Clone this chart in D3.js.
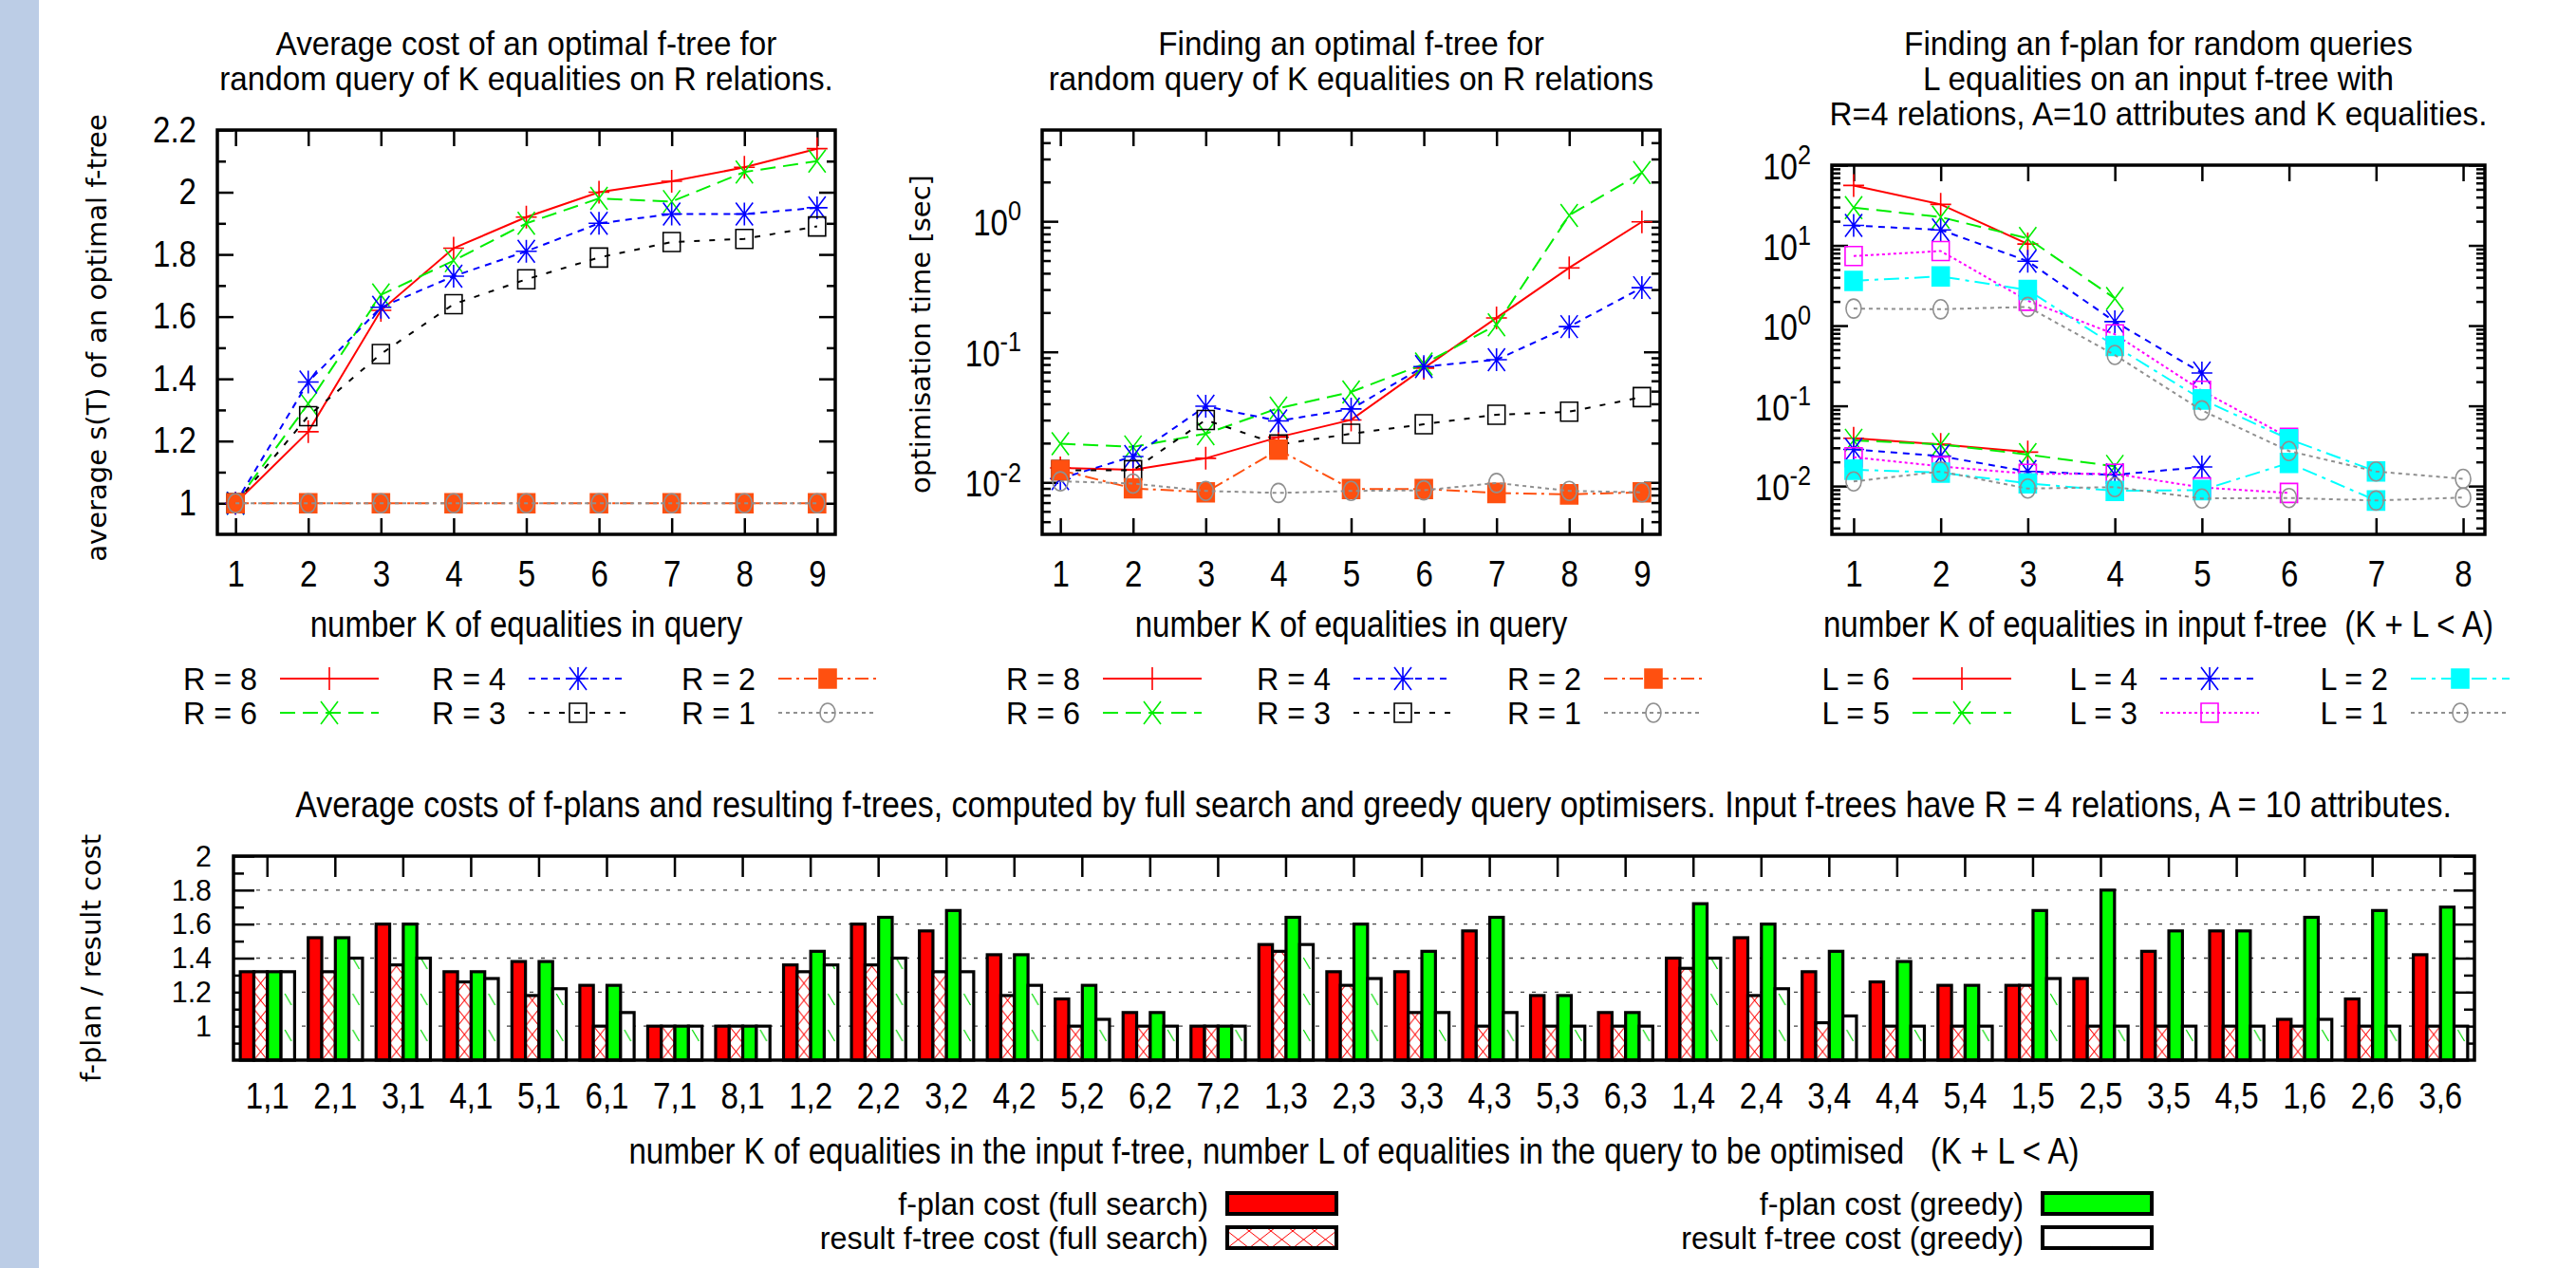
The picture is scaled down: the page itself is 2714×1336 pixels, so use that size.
<!DOCTYPE html>
<html>
<head>
<meta charset="utf-8">
<script src="https://cdn.jsdelivr.net/npm/d3@7"></script>
<style>
  body { margin: 0; background: #fff; }
  text { font-family: "Liberation Sans", Arial, sans-serif; fill: #000; white-space: pre; }
  .rot { font-family: "DejaVu Sans", sans-serif; }
</style>
</head>
<body>
<svg id="chart" width="2714" height="1336"></svg>
<script>
// ---- data: average cost of an optimal f-tree (left chart) ----
const kQuery = [1, 2, 3, 4, 5, 6, 7, 8, 9];
const costR8 = [1, 1.23, 1.62, 1.82, 1.92, 2.00, 2.035, 2.08, 2.14];
const costR6 = [1, 1.32, 1.67, 1.78, 1.90, 1.98, 1.97, 2.065, 2.10];
const costR4 = [1, 1.39, 1.63, 1.73, 1.81, 1.90, 1.93, 1.93, 1.95];
const costR3 = [1, 1.28, 1.48, 1.64, 1.72, 1.79, 1.84, 1.85, 1.89];
const costR2 = [1, 1, 1, 1, 1, 1, 1, 1, 1];
const costR1 = [1, 1, 1, 1, 1, 1, 1, 1, 1];

// ---- data: optimisation time (middle chart) ----
const timeR8 = [0.0129, 0.0125, 0.0153, 0.0222, 0.0301, 0.075, 0.182, 0.44, 0.99];
const timeR6 = [0.0198, 0.0187, 0.0236, 0.037, 0.0493, 0.0806, 0.161, 1.11, 2.36];
const timeR4 = [0.0107, 0.0158, 0.0383, 0.0296, 0.0365, 0.077, 0.087, 0.156, 0.31];
const timeR3 = [0.0124, 0.0124, 0.0301, 0.0195, 0.0236, 0.0279, 0.033, 0.0348, 0.045];
const timeR2 = [0.0124, 0.0090, 0.0084, 0.0178, 0.0089, 0.0089, 0.0083, 0.0081, 0.0084];
const timeR1 = [0.0102, 0.0098, 0.0086, 0.0083, 0.0086, 0.0087, 0.0099, 0.0086, 0.0084];

// ---- data: finding an f-plan (right chart), upper and lower curve per L ----
const kInput = [1, 2, 3, 4, 5, 6, 7, 8];
const planUpperL6 = [55.8, 32.4, 10.4];
const planLowerL6 = [0.0394, 0.0331, 0.0265];
const planUpperL5 = [29.6, 22.5, 12.2, 2.18];
const planLowerL5 = [0.0372, 0.033, 0.0247, 0.0176];
const planUpperL4 = [17.7, 15.6, 6.35, 1.12, 0.256];
const planLowerL4 = [0.0286, 0.0236, 0.0152, 0.0138, 0.0173];
const planUpperL3 = [7.36, 8.5, 2.04, 0.78, 0.154, 0.040];
const planLowerL3 = [0.0229, 0.0176, 0.0142, 0.0142, 0.0096, 0.0082];
const planUpperL2 = [3.61, 4.1, 2.78, 0.557, 0.12, 0.0384, 0.0152];
const planLowerL2 = [0.016, 0.0147, 0.0108, 0.0087, 0.0089, 0.0194, 0.0066];
const planUpperL1 = [1.63, 1.6, 1.71, 0.43, 0.0877, 0.0273, 0.0152, 0.0123];
const planLowerL1 = [0.0114, 0.0152, 0.0093, 0.0097, 0.0070, 0.0071, 0.0066, 0.0072];

// ---- data: bar chart ----
const pairLabels = ["1,1","2,1","3,1","4,1","5,1","6,1","7,1","8,1",
  "1,2","2,2","3,2","4,2","5,2","6,2","7,2",
  "1,3","2,3","3,3","4,3","5,3","6,3",
  "1,4","2,4","3,4","4,4","5,4",
  "1,5","2,5","3,5","4,5",
  "1,6","2,6","3,6"];
const planCostFull   = [1.32,1.52,1.60,1.32,1.38,1.24,1.0,1.0, 1.36,1.60,1.56,1.42,1.16,1.08,1.0,
  1.48,1.32,1.32,1.56,1.18,1.08, 1.40,1.52,1.32,1.26,1.24, 1.24,1.28,1.44,1.56, 1.04,1.16,1.42];
const treeCostFull   = [1.32,1.32,1.36,1.26,1.18,1.0,1.0,1.0, 1.32,1.36,1.32,1.18,1.0,1.0,1.0,
  1.44,1.24,1.08,1.0,1.0,1.0, 1.34,1.18,1.02,1.0,1.0, 1.24,1.0,1.0,1.0, 1.0,1.0,1.0];
const planCostGreedy = [1.32,1.52,1.60,1.32,1.38,1.24,1.0,1.0, 1.44,1.64,1.68,1.42,1.24,1.08,1.0,
  1.64,1.60,1.44,1.64,1.18,1.08, 1.72,1.60,1.44,1.38,1.24, 1.68,1.80,1.56,1.56, 1.64,1.68,1.70];
const treeCostGreedy = [1.32,1.40,1.40,1.28,1.22,1.08,1.0,1.0, 1.36,1.40,1.32,1.24,1.04,1.0,1.0,
  1.48,1.28,1.08,1.08,1.0,1.0, 1.40,1.22,1.06,1.0,1.0, 1.28,1.0,1.0,1.0, 1.04,1.0,1.0];

const svg = d3.select("#chart");
const defs = svg.append("defs");

// blue strip on the left edge
svg.append("rect").attr("x", 0).attr("y", 0).attr("width", 41).attr("height", 1336).attr("fill", "#bccde6");

// line styles
const RED = "#ff0000", GREEN = "#00ee00", BLUE = "#0000ff", BLACK = "#000000",
      ORANGE = "#ff5010", GRAY = "#909090", MAGENTA = "#ff00ff", CYAN = "#00ffff";
const styles = {
  s1: {color: RED, dash: null, marker: "plus"},
  s2: {color: GREEN, dash: "16,8", marker: "cross"},
  s3: {color: BLUE, dash: "7,6", marker: "star"},
  s4: {color: BLACK, dash: "6,10", marker: "square"},
  s5: {color: ORANGE, dash: "14,5,3,5", marker: "fsquare"},
  s6: {color: GRAY, dash: "4,4", marker: "circle"},
  m4: {color: MAGENTA, dash: "3,3", marker: "square"},
  c5: {color: CYAN, dash: "16,6,4,6", marker: "fsquare"}
};

function markerPath(type, cx, cy) {
  const p = `M${cx - 11},${cy}H${cx + 11}M${cx},${cy - 12}V${cy + 12}`;
  const c = `M${cx - 9},${cy - 12}L${cx + 9},${cy + 12}M${cx + 9},${cy - 12}L${cx - 9},${cy + 12}`;
  if (type === "plus") return p;
  if (type === "cross") return c;
  if (type === "star") return p + c;
  if (type === "square" || type === "fsquare") return `M${cx - 9},${cy - 10}H${cx + 9}V${cy + 10}H${cx - 9}Z`;
  return `M${cx - 8},${cy}a8,10 0 1,0 16,0a8,10 0 1,0 -16,0`;
}

function drawMarkers(g, pts, st) {
  g.selectAll(null).data(pts).join("path")
    .attr("d", d => markerPath(st.marker, d[0], d[1]))
    .attr("fill", st.marker === "fsquare" ? st.color : "none")
    .attr("stroke", st.color)
    .attr("stroke-width", 1.6);
}

function styleAxis(sel, size) {
  sel.select(".domain").remove();
  sel.attr("font-family", null).attr("font-size", size || 38);
  sel.selectAll(".tick line").attr("stroke", "#000").attr("stroke-width", 2.5);
}

function lineChart(o) {
  const g = svg.append("g");
  const x = d3.scaleLinear().domain(o.xDomain).range([o.left, o.right]);
  const y = (o.log ? d3.scaleLog() : d3.scaleLinear()).domain(o.yDomain).range([o.bottom, o.top]);

  g.append("g").attr("transform", `translate(0,${o.bottom})`)
    .call(d3.axisBottom(x).tickValues(o.xTicks).tickFormat(d3.format("d")).tickSize(-17).tickPadding(28))
    .call(styleAxis);
  g.append("g").attr("transform", `translate(0,${o.top})`)
    .call(d3.axisTop(x).tickValues(o.xTicks).tickFormat("").tickSize(-17))
    .call(styleAxis);

  const left = d3.axisLeft(y).tickValues(o.yMajor).tickSize(-17).tickPadding(22)
    .tickFormat(o.log ? "" : d3.format("~g"));
  g.append("g").attr("transform", `translate(${o.left},0)`).call(left).call(styleAxis);
  g.append("g").attr("transform", `translate(${o.right},0)`)
    .call(d3.axisRight(y).tickValues(o.yMajor).tickSize(-17).tickFormat("")).call(styleAxis);
  g.append("g").attr("transform", `translate(${o.left},0)`)
    .call(d3.axisLeft(y).tickValues(o.yMinor).tickSize(-9).tickFormat("")).call(styleAxis);
  g.append("g").attr("transform", `translate(${o.right},0)`)
    .call(d3.axisRight(y).tickValues(o.yMinor).tickSize(-9).tickFormat("")).call(styleAxis);

  if (o.log) {
    const lab = g.selectAll(null).data(o.yMajor).join("text")
      .attr("x", o.left - 22).attr("y", d => y(d)).attr("dy", "0.4em")
      .attr("text-anchor", "end").attr("font-size", 38);
    lab.append("tspan").text("10");
    lab.append("tspan").attr("dy", "-0.55em").attr("font-size", 29).text(d => Math.round(Math.log10(d)));
  }

  // series
  o.series.forEach(s => {
    const pts = s.values.map((v, i) => [x(s.k[i]), y(v)]);
    g.append("path").attr("d", d3.line()(pts)).attr("fill", "none")
      .attr("stroke", s.st.color).attr("stroke-width", 2)
      .attr("stroke-dasharray", s.st.dash);
    drawMarkers(g, pts, s.st);
  });

  g.append("rect").attr("x", o.left).attr("y", o.top)
    .attr("width", o.right - o.left).attr("height", o.bottom - o.top)
    .attr("fill", "none").attr("stroke", "#000").attr("stroke-width", 3.5);

  // titles
  const cx = (o.left + o.right) / 2;
  o.title.forEach((t, i) => {
    g.append("text").attr("x", cx).attr("y", 58 + i * 37).attr("text-anchor", "middle")
      .attr("font-size", 35).text(t);
  });
  g.append("text").attr("x", cx).attr("y", 671).attr("text-anchor", "middle")
    .attr("font-size", 38).text(o.xTitle);
  if (o.yTitle) {
    g.append("text").attr("class", "rot")
      .attr("transform", `translate(${o.yTitleX},${o.yTitleY}) rotate(-90)`)
      .attr("text-anchor", "middle").attr("dominant-baseline", "central")
      .attr("font-size", 29).text(o.yTitle);
  }

  // legend
  o.legend.forEach((e, i) => {
    const tx = o.legendX[Math.floor(i / 2)];
    const cy = i % 2 === 0 ? 715 : 751;
    g.append("text").attr("x", tx).attr("y", cy).attr("dy", "0.36em")
      .attr("text-anchor", "end").attr("font-size", 34).text(e.label);
    g.append("line").attr("x1", tx + 24).attr("x2", tx + 128).attr("y1", cy).attr("y2", cy)
      .attr("stroke", e.st.color).attr("stroke-width", 2).attr("stroke-dasharray", e.st.dash);
    drawMarkers(g, [[tx + 76, cy]], e.st);
  });
}

function logMinor(lo, hi) {
  const out = [];
  for (let e = Math.floor(Math.log10(lo)); e <= Math.ceil(Math.log10(hi)); e++) {
    for (let m = 2; m <= 9; m++) {
      const v = m * Math.pow(10, e);
      if (v > lo && v < hi) out.push(v);
    }
  }
  return out;
}

const rSeries = (vals) => [
  {label: "R = 8", k: kQuery, values: vals[0], st: styles.s1},
  {label: "R = 6", k: kQuery, values: vals[1], st: styles.s2},
  {label: "R = 4", k: kQuery, values: vals[2], st: styles.s3},
  {label: "R = 3", k: kQuery, values: vals[3], st: styles.s4},
  {label: "R = 2", k: kQuery, values: vals[4], st: styles.s5},
  {label: "R = 1", k: kQuery, values: vals[5], st: styles.s6}
];

const leftSeries = rSeries([costR8, costR6, costR4, costR3, costR2, costR1]);
lineChart({
  left: 229, right: 880, top: 137, bottom: 563,
  xDomain: [0.75, 9.25], xTicks: kQuery,
  yDomain: [0.9, 2.2], yMajor: [1, 1.2, 1.4, 1.6, 1.8, 2, 2.2],
  yMinor: [1.1, 1.3, 1.5, 1.7, 1.9, 2.1],
  series: leftSeries, legend: leftSeries, legendX: [271, 533, 796],
  title: ["Average cost of an optimal f-tree for", "random query of K equalities on R relations."],
  xTitle: "number K of equalities in query",
  yTitle: "average s(T) of an optimal f-tree", yTitleX: 102, yTitleY: 356
});

const midSeries = rSeries([timeR8, timeR6, timeR4, timeR3, timeR2, timeR1]);
lineChart({
  left: 1098, right: 1749, top: 137, bottom: 563, log: true,
  xDomain: [0.75, 9.25], xTicks: kQuery,
  yDomain: [0.004, 5], yMajor: [0.01, 0.1, 1], yMinor: logMinor(0.004, 5),
  series: midSeries, legend: midSeries, legendX: [1138, 1402, 1666],
  title: ["Finding an optimal f-tree for", "random query of K equalities on R relations"],
  xTitle: "number K of equalities in query",
  yTitle: "optimisation time [sec]", yTitleX: 970, yTitleY: 352
});

const lDefs = [
  ["L = 6", planUpperL6, planLowerL6, styles.s1],
  ["L = 5", planUpperL5, planLowerL5, styles.s2],
  ["L = 4", planUpperL4, planLowerL4, styles.s3],
  ["L = 3", planUpperL3, planLowerL3, styles.m4],
  ["L = 2", planUpperL2, planLowerL2, styles.c5],
  ["L = 1", planUpperL1, planLowerL1, styles.s6]
];
const rightSeries = [];
lDefs.forEach(d => {
  rightSeries.push({k: kInput, values: d[1], st: d[3]});
  rightSeries.push({k: kInput, values: d[2], st: d[3]});
});
lineChart({
  left: 1930, right: 2618, top: 174, bottom: 563, log: true,
  xDomain: [0.75, 8.25], xTicks: kInput,
  yDomain: [0.0025, 100], yMajor: [0.01, 0.1, 1, 10, 100], yMinor: logMinor(0.0025, 100),
  series: rightSeries,
  legend: lDefs.map(d => ({label: d[0], st: d[3]})), legendX: [1991, 2252, 2516],
  title: ["Finding an f-plan for random queries", "L equalities on an input f-tree with",
          "R=4 relations, A=10 attributes and K equalities."],
  xTitle: "number K of equalities in input f-tree  (K + L < A)"
});

// ---- bar chart ----
const B = {left: 246, right: 2607, top: 902, bottom: 1117};
const bx = d3.scaleBand().domain(pairLabels).range([B.left, B.right]).paddingInner(0.2).paddingOuter(0.1);
const sub = d3.scaleBand().domain([0, 1, 2, 3]).range([0, bx.bandwidth()]);
const by = d3.scaleLinear().domain([0.8, 2]).range([B.bottom, B.top]);
const bg = svg.append("g");

bg.selectAll(null).data([1, 1.2, 1.4, 1.6, 1.8]).join("line")
  .attr("x1", B.left + 24).attr("x2", B.right).attr("y1", d => by(d)).attr("y2", d => by(d))
  .attr("stroke", "#444").attr("stroke-width", 1.3).attr("stroke-dasharray", "4,8");

const barMajor = [1, 1.2, 1.4, 1.6, 1.8, 2];
const barMinor = [0.9, 1.1, 1.3, 1.5, 1.7, 1.9];
bg.append("g").attr("transform", `translate(${B.left},0)`)
  .call(d3.axisLeft(by).tickValues(barMajor).tickFormat(d3.format("~g")).tickSize(-22).tickPadding(23))
  .call(sel => styleAxis(sel, 32));
bg.append("g").attr("transform", `translate(${B.right},0)`)
  .call(d3.axisRight(by).tickValues(barMajor).tickFormat("").tickSize(-22)).call(styleAxis);
bg.append("g").attr("transform", `translate(${B.left},0)`)
  .call(d3.axisLeft(by).tickValues(barMinor).tickFormat("").tickSize(-11)).call(styleAxis);
bg.append("g").attr("transform", `translate(${B.right},0)`)
  .call(d3.axisRight(by).tickValues(barMinor).tickFormat("").tickSize(-11)).call(styleAxis);
bg.append("g").attr("transform", `translate(0,${B.top})`)
  .call(d3.axisTop(bx).tickFormat("").tickSize(-22)).call(styleAxis);
bg.append("g").attr("transform", `translate(0,${B.bottom})`)
  .call(d3.axisBottom(bx).tickSize(-22).tickPadding(24)).call(styleAxis);

// fill patterns, one per bar so each starts at its bar's left edge
function crossPattern(id, x0, w) {
  const p = defs.append("pattern").attr("id", id).attr("patternUnits", "userSpaceOnUse")
    .attr("x", x0).attr("y", B.bottom).attr("width", w).attr("height", 18);
  p.append("rect").attr("width", w).attr("height", 18).attr("fill", "#fff");
  p.append("path").attr("d", `M0,0L${w},18M${w},0L0,18`)
    .attr("stroke", "#ff0000").attr("stroke-width", 1);
}
function slashPattern(id, x0, w) {
  const p = defs.append("pattern").attr("id", id).attr("patternUnits", "userSpaceOnUse")
    .attr("x", x0).attr("y", B.bottom).attr("width", w).attr("height", 38);
  p.append("rect").attr("width", w).attr("height", 38).attr("fill", "#fff");
  p.append("path").attr("d", "M4,6L11,18").attr("stroke", "#00dd00").attr("stroke-width", 1.2);
}

const barSeries = [planCostFull, treeCostFull, planCostGreedy, treeCostGreedy];
barSeries.forEach((vals, si) => {
  bg.selectAll(null).data(vals).join("rect")
    .attr("x", (d, i) => bx(pairLabels[i]) + sub(si))
    .attr("y", d => by(d))
    .attr("width", sub.bandwidth())
    .attr("height", d => by(0.8) - by(d))
    .attr("fill", (d, i) => {
      const x0 = bx(pairLabels[i]) + sub(si);
      if (si === 0) return RED;
      if (si === 2) return "#00ff00";
      const id = (si === 1 ? "cx" : "sl") + i;
      if (si === 1) crossPattern(id, x0, sub.bandwidth()); else slashPattern(id, x0, sub.bandwidth());
      return `url(#${id})`;
    })
    .attr("stroke", "#000").attr("stroke-width", 3.2);
});

bg.append("rect").attr("x", B.left).attr("y", B.top)
  .attr("width", B.right - B.left).attr("height", B.bottom - B.top)
  .attr("fill", "none").attr("stroke", "#000").attr("stroke-width", 3.5);

bg.append("text").attr("x", 1447).attr("y", 861).attr("text-anchor", "middle").attr("font-size", 39)
  .text("Average costs of f-plans and resulting f-trees, computed by full search and greedy query optimisers. Input f-trees have R = 4 relations, A = 10 attributes.");
bg.append("text").attr("x", (B.left + B.right) / 2).attr("y", 1226).attr("text-anchor", "middle").attr("font-size", 38)
  .text("number K of equalities in the input f-tree, number L of equalities in the query to be optimised   (K + L < A)");
bg.append("text").attr("class", "rot")
  .attr("transform", `translate(96,${(B.top + B.bottom) / 2}) rotate(-90)`)
  .attr("text-anchor", "middle").attr("dominant-baseline", "central")
  .attr("font-size", 29).text("f-plan / result cost");

// bar legend
crossPattern("cxLeg", 1293, 23);
slashPattern("slLeg", 2152, 23);
const barLegend = [
  {label: "f-plan cost (full search)", x: 1273, y: 1268, fill: RED},
  {label: "result f-tree cost (full search)", x: 1273, y: 1304, fill: "url(#cxLeg)"},
  {label: "f-plan cost (greedy)", x: 2132, y: 1268, fill: "#00ff00"},
  {label: "result f-tree cost (greedy)", x: 2132, y: 1304, fill: "url(#slLeg)"}
];
barLegend.forEach(e => {
  bg.append("text").attr("x", e.x).attr("y", e.y).attr("dy", "0.36em").attr("text-anchor", "end")
    .attr("font-size", 34).text(e.label);
  bg.append("rect").attr("x", e.x + 20).attr("y", e.y - 11).attr("width", 115).attr("height", 22)
    .attr("fill", e.fill).attr("stroke", "#000").attr("stroke-width", 4);
});

// narrow the horizontal text, the figure uses a condensed sans face
svg.selectAll("text:not(.rot)").each(function() {
  const t = d3.select(this);
  const fs = +t.attr("font-size") || +d3.select(this.parentNode.parentNode).attr("font-size") || 38;
  const sx = fs >= 38 ? 0.87 : 0.95;
  const x = +t.attr("x") || 0, y = +t.attr("y") || 0;
  t.attr("transform", `translate(${x},${y}) scale(${sx},1)`).attr("x", 0).attr("y", 0);
});
</script>
</body>
</html>
